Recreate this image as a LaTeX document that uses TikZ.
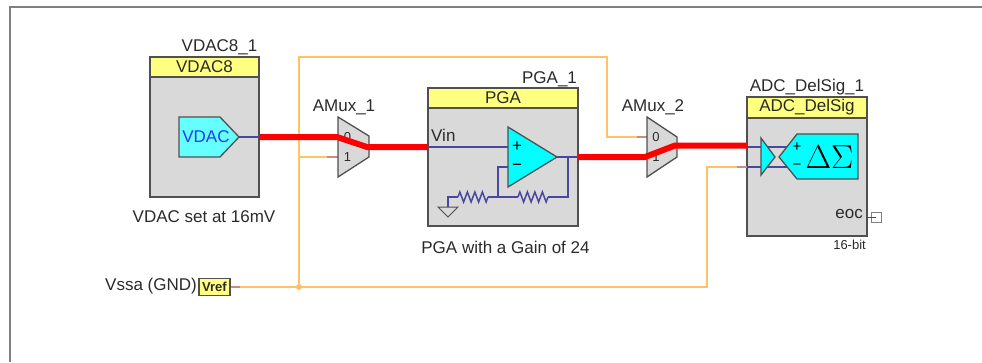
\documentclass[tikz,border=0pt]{standalone}
\usepackage{fontspec}
\setmainfont{Liberation Sans}
\usetikzlibrary{decorations.pathmorphing}
\definecolor{blockgray}{HTML}{D9D9D9}
\definecolor{headyellow}{HTML}{FFFF80}
\definecolor{edgegray}{HTML}{505050}
\definecolor{wireblue}{HTML}{4848A0}
\definecolor{wireorange}{HTML}{FFC266}
\definecolor{stubpink}{HTML}{C88A8A}
\definecolor{textgray}{HTML}{2A2A2A}
\definecolor{ampcyan}{HTML}{00FFFF}
\definecolor{dacblue}{HTML}{66FFFF}
\definecolor{dactext}{HTML}{1E3CF0}
\tikzset{
  block/.style={draw=edgegray, fill=blockgray, line width=1.3pt, inner sep=0pt},
  head/.style={draw=edgegray, fill=headyellow, line width=1.3pt, inner sep=0pt, text=textgray, font=\fontsize{17}{18}\selectfont},
  label/.style={inner sep=0pt, text=textgray, font=\fontsize{17}{18}\selectfont},
  pinnum/.style={inner sep=0pt, text=textgray, font=\fontsize{13}{15}\selectfont},
  amp/.style={draw=edgegray, fill=ampcyan, line width=1.3pt},
  muxshape/.style={draw=edgegray, fill=blockgray, line width=1.3pt},
  inwire/.style={draw=wireblue, line width=1.5pt},
  sigwire/.style={draw=red, line width=6pt},
  refwire/.style={draw=wireorange, line width=2pt},
  stub/.style={draw=stubpink, line width=2pt},
  res/.style={inwire, decorate, decoration={zigzag, segment length=7.5pt, amplitude=5pt}}
}
\begin{document}
\begin{tikzpicture}[x=1pt, y=-1pt]
  \useasboundingbox (0,0) rectangle (982,362);
  \draw[draw=gray, line width=2pt] (10,362) -- (10,7) -- (982,7);

  % blocks
  \node (vdacbox) at (204.5,127) [block, minimum width=109pt, minimum height=140pt] {};
  \node (vdachead) at (204.5,67) [head, minimum width=109pt, minimum height=20pt] {VDAC8};
  \node (pgabox) at (503,157) [block, minimum width=150pt, minimum height=138pt] {};
  \node (pgahead) at (503,98) [head, minimum width=150pt, minimum height=20pt] {PGA};
  \node (adcbox) at (807,166.5) [block, minimum width=120pt, minimum height=139pt] {};
  \node (adchead) at (807,107.5) [head, minimum width=120pt, minimum height=21pt] {ADC\_DelSig};
  \node (vref) at (214.5,287) [draw=edgegray, fill=headyellow, line width=1.3pt, inner sep=0pt, minimum width=31pt, minimum height=17pt, text=textgray, font=\bfseries\fontsize{13}{15}\selectfont] {Vref};
  \node (eocpin) at (876,217) [draw=gray, fill=white, line width=1pt, inner sep=0pt, minimum size=10pt] {};

  % pin points
  \coordinate (vdacout) at (239,137);
  \coordinate (pgain) at (428,147);
  \coordinate (ampplus) at (508,147);
  \coordinate (ampminus) at (508,167);
  \coordinate (ampout) at (557,157);
  \coordinate (pgaout) at (578,157);
  \coordinate (fbtop) at (568,157);
  \coordinate (fbbot) at (568,197);
  \coordinate (fbres) at (548,197);
  \coordinate (fbmid) at (518,197);
  \coordinate (fbnode) at (498,197);
  \coordinate (gndres) at (488,197);
  \coordinate (gndend) at (458,197);
  \coordinate (gndcor) at (448,197);
  \coordinate (gndtop) at (448,207);
  \coordinate (mux1a) at (338,137);
  \coordinate (mux1b) at (338,157);
  \coordinate (mux2a) at (647,137);
  \coordinate (adcp) at (747,147);
  \coordinate (adcn) at (747,167);
  \coordinate (adcpin) at (787,147);
  \coordinate (adcnin) at (787,167);
  \coordinate (dot) at (299,287);

  % reference lines
  \draw[refwire] (vref.east) -- (dot) -- (299,57) -- (607,57) -- (607,137) -- (mux2a);
  \draw[refwire] (dot) -- (707,287) -- (707,167) -- (adcn);
  \draw[refwire] (299,157) -- (mux1b);
  \fill[wireorange] (dot) circle (3pt);
  \draw[stub] (vref.east) -- (240,287);
  \draw[stub] (327,157) -- (mux1b);
  \draw[stub] (637,137) -- (mux2a);
  \draw[stub] (737,167) -- (adcn);

  % DAC
  \draw[amp, fill=dacblue] (179,117) -- (220,117) -- (vdacout) -- (220,157) -- (179,157) -- cycle;
  \node (vdactxt) at (206,137) [label, text=dactext] {VDAC};
  \draw[inwire] (vdacout) -- (259,137);

  % muxes
  \draw[muxshape] (338,117) -- (369,136) -- (369,157) -- (338,177) -- cycle;
  \node (mux1zero) at (347.5,137) [pinnum] {0};
  \node (mux1one) at (347.5,157) [pinnum] {1};
  \draw[muxshape] (647,117) -- (677,137) -- (677,157) -- (647,177) -- cycle;
  \node (mux2zero) at (656,137) [pinnum] {0};
  \node (mux2one) at (656,157) [pinnum] {1};

  % amplifier
  \draw[inwire] (pgain) -- (ampplus);
  \draw[inwire] (ampout) -- (pgaout);
  \draw[inwire] (ampminus) -- (fbnode |- ampminus) -- (fbnode) -- (gndres);
  \draw[inwire] (fbtop) -- (fbbot) -- (fbres);
  \draw[inwire] (fbmid) -- (fbnode);
  \draw[res] (fbres) -- (fbmid);
  \draw[res] (gndres) -- (gndend);
  \draw[inwire] (gndend) -- (gndcor) -- (gndtop);
  \draw[edgegray, line width=1pt, fill=blockgray] (438,207) -- (458,207) -- (448,217) -- cycle;
  \draw[amp] (508,127) -- (ampout) -- (508,187) -- cycle;
  \node (plus) at (517,147) [inner sep=0pt, font=\fontsize{17}{17}\selectfont] {+};
  \node (minus) at (517,167) [inner sep=0pt, font=\fontsize{17}{17}\selectfont] {−};
  \node (vin) at (431,135) [label, anchor=west] {Vin};

  % ADC front end
  \draw[inwire] (adcp) -- (adcpin);
  \draw[inwire] (adcn) -- (adcnin);
  \draw[amp] (761,138) -- (775,157) -- (761,175) -- cycle;
  \draw[amp] (779,157) -- (797,134) -- (858,134) -- (858,179) -- (797,179) -- cycle;
  \node (adcplus) at (797,147) [inner sep=0pt, font=\fontsize{15}{15}\selectfont] {+};
  \node (adcminus) at (797,167) [inner sep=0pt, font=\fontsize{15}{15}\selectfont] {−};
  \node (dsig) at (829.5,157) [inner sep=0pt, scale=1.6] {\huge$\Delta\Sigma$};
  \draw[edgegray, line width=1pt] (adcbox.east |- eocpin) -- (eocpin.center);
  \node (eoc) at (863,214) [label, anchor=east] {eoc};

  % signal path
  \draw[sigwire] (259,137) -- (337,137) -- (367,147) -- (pgain);
  \draw[sigwire] (pgaout) -- (645,157) -- (675,145.5) -- (747,145.5);

  % names and notes
  \node (vdacname) at (219.5,47) [label] {VDAC8\_1};
  \node (pganame) at (549.5,79) [label] {PGA\_1};
  \node (adcname) at (807,87) [label] {ADC\_DelSig\_1};
  \node (mux1name) at (344,107) [label] {AMux\_1};
  \node (mux2name) at (653,107) [label] {AMux\_2};
  \node (vdacnote) at (204,217) [label] {VDAC set at 16mV};
  \node (pganote) at (505.5,247) [label] {PGA with a Gain of 24};
  \node (vssa) at (197,286) [label, anchor=east] {Vssa (GND)};
  \node (bits) at (866,245) [inner sep=0pt, anchor=east, text=textgray, font=\fontsize{13}{15}\selectfont] {16-bit};
\end{tikzpicture}
\end{document}
